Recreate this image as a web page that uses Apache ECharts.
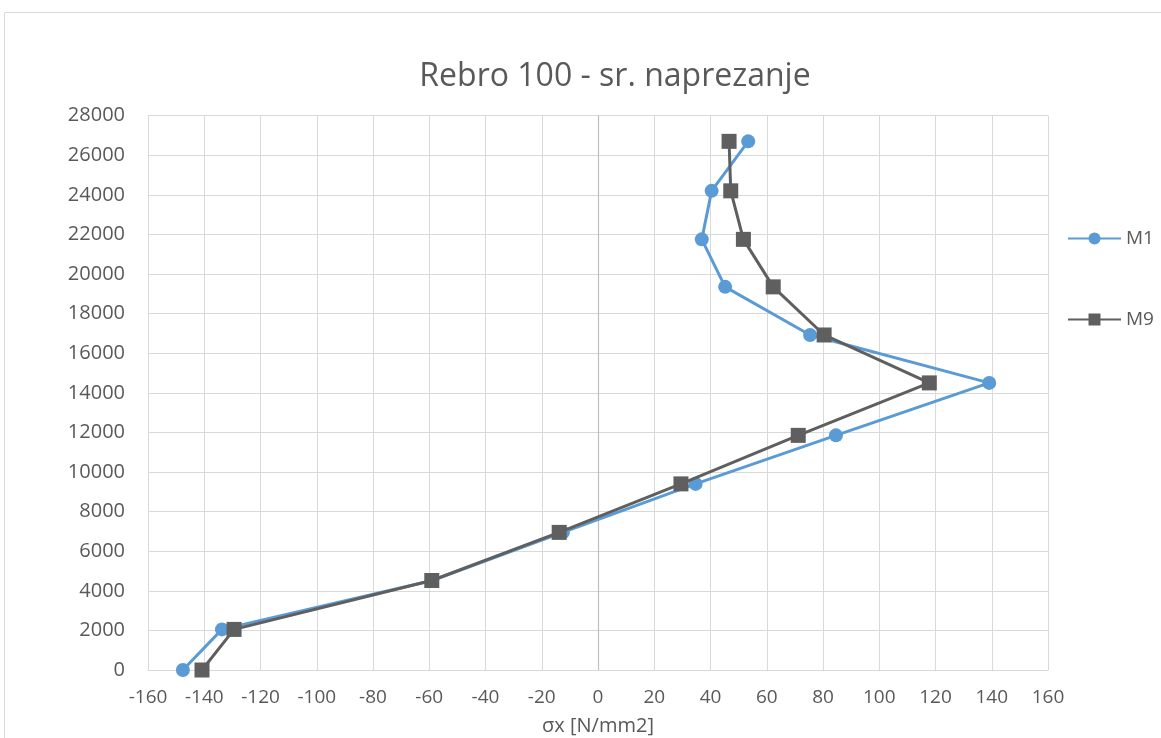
<!DOCTYPE html>
<html><head><meta charset="utf-8">
<script src="https://cdn.jsdelivr.net/npm/echarts@6/dist/echarts.min.js"></script>
<style>html,body{margin:0;padding:0;background:#fff;}#c{width:1161px;height:738px;}</style>
</head><body><div id="c"></div>
<script>
const heights = [0, 2050, 4520, 6950, 9400, 11850, 14500, 16920, 19350, 21750, 24200, 26700];
const m1Stress = [-147.6, -133.7, -59, -12.5, 34.7, 84.6, 139.1, 75.4, 45.2, 36.9, 40.4, 53.4];
const m9Stress = [-140.8, -129.4, -59.1, -13.8, 29.5, 71.2, 117.8, 80.4, 62.3, 51.7, 47.2, 46.6];
const seriesNames = ['M1', 'M9'];
const titleText = 'Rebro 100 - sr. naprezanje';
const xAxisTitle = 'σx [N/mm2]';

const font = '"Open Sans", sans-serif';
const txt = '#595959';
const chart = echarts.init(document.getElementById('c'));
chart.setOption({
  animation: false,
  backgroundColor: '#fff',
  graphic: [{type:'rect', shape:{x:4.5,y:12.5,width:1200,height:800}, style:{fill:'none', stroke:'#d9d9d9', lineWidth:1}, silent:true, z:-10}],
  title: {text: titleText, left: 610, top: 56, textAlign: 'center',
    textStyle: {fontFamily: font, fontSize: 32, fontWeight: 'normal', color: txt}},
  legend: {orient: 'vertical', left: 1062, top: 224, itemGap: 62, itemWidth: 53, itemHeight: 15,
    textStyle: {fontFamily: font, fontSize: 19, color: txt}, data: seriesNames},
  grid: {left: 148, right: 113, top: 115.6, bottom: 68, containLabel: false, outerBoundsMode: 'none'},
  xAxis: {type: 'value', min: -160, max: 160, interval: 20,
    name: xAxisTitle, nameLocation: 'middle', nameGap: 46,
    nameTextStyle: {fontFamily: font, fontSize: 20, color: txt},
    axisLine: {onZero: false, lineStyle: {color: '#d9d9d9', width: 1}},
    axisTick: {show: false},
    axisLabel: {fontFamily: font, fontSize: 19, color: txt, margin: 18},
    splitLine: {lineStyle: {color: '#d9d9d9', width: 1}}},
  yAxis: {type: 'value', min: 0, max: 28000, interval: 2000,
    axisLine: {show: false}, axisTick: {show: false},
    axisLabel: {fontFamily: font, fontSize: 20, color: txt, margin: 23, formatter: v => String(v)},
    splitLine: {lineStyle: {color: '#d9d9d9', width: 1}}},
  series: [
    {name: seriesNames[0], type: 'line', data: m1Stress.map((v,i)=>[v, heights[i]]),
      symbol: 'circle', symbolSize: 14, color: '#5b9bd5',
      lineStyle: {width: 3, color: '#5b9bd5'}, itemStyle: {color: '#5b9bd5'}, z: 3,
      markLine: {silent: true, symbol: ['none','none'], label: {show: false},
        lineStyle: {color: '#bfbfbf', width: 1.2, type: 'solid'}, data: [{xAxis: 0}], z: 1}},
    {name: seriesNames[1], type: 'line', data: m9Stress.map((v,i)=>[v, heights[i]]),
      symbol: 'rect', symbolSize: 15, color: '#5f5f5f',
      lineStyle: {width: 3, color: '#5f5f5f'}, itemStyle: {color: '#5f5f5f'}, z: 4}
  ]
});
</script></body></html>
